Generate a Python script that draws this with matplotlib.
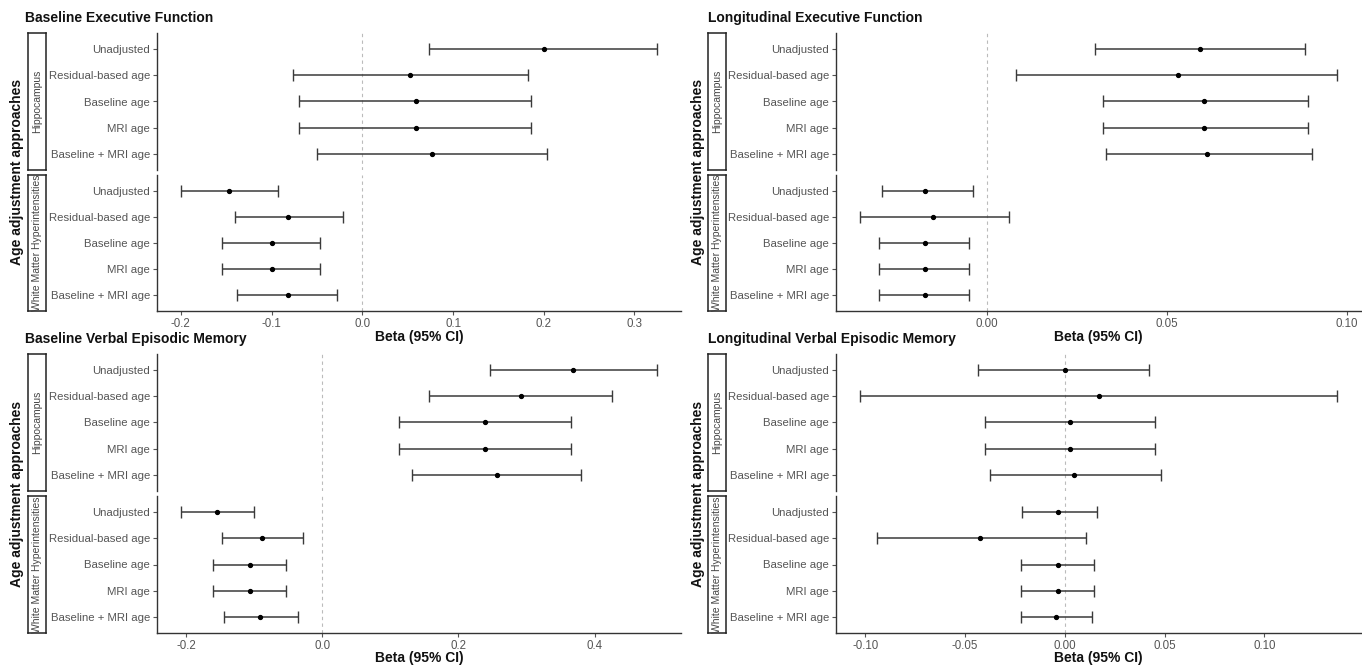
import matplotlib
matplotlib.use("Agg")
import matplotlib.pyplot as plt
import numpy as np

plt.rcParams['font.family'] = ['Liberation Sans', 'DejaVu Sans']

categories = ["Unadjusted", "Residual-based age", "Baseline age", "MRI age", "Baseline + MRI age"]
regions = ["Hippocampus", "White Matter Hyperintensities"]
panel_titles = ["Baseline Executive Function", "Longitudinal Executive Function",
                "Baseline Verbal Episodic Memory", "Longitudinal Verbal Episodic Memory"]

# Baseline Executive Function
bef_hip_est = [0.200, 0.053, 0.059, 0.059, 0.077]
bef_hip_lo = [0.074, -0.076, -0.070, -0.070, -0.050]
bef_hip_hi = [0.325, 0.183, 0.186, 0.186, 0.204]
bef_wmh_est = [-0.147, -0.082, -0.100, -0.100, -0.082]
bef_wmh_lo = [-0.200, -0.140, -0.155, -0.155, -0.138]
bef_wmh_hi = [-0.093, -0.021, -0.047, -0.047, -0.028]

# Longitudinal Executive Function
lef_hip_est = [0.0593, 0.0531, 0.0602, 0.0602, 0.0612]
lef_hip_lo = [0.0301, 0.0082, 0.0322, 0.0322, 0.0331]
lef_hip_hi = [0.0883, 0.0973, 0.0893, 0.0893, 0.0904]
lef_wmh_est = [-0.0171, -0.0151, -0.0171, -0.0171, -0.0171]
lef_wmh_lo = [-0.0292, -0.0353, -0.0301, -0.0301, -0.0301]
lef_wmh_hi = [-0.0039, 0.0060, -0.0051, -0.0051, -0.0051]

# Baseline Verbal Episodic Memory
bvm_hip_est = [0.369, 0.292, 0.239, 0.239, 0.256]
bvm_hip_lo = [0.246, 0.157, 0.112, 0.112, 0.131]
bvm_hip_hi = [0.492, 0.426, 0.365, 0.365, 0.380]
bvm_wmh_est = [-0.155, -0.089, -0.107, -0.107, -0.091]
bvm_wmh_lo = [-0.208, -0.147, -0.161, -0.161, -0.144]
bvm_wmh_hi = [-0.101, -0.029, -0.053, -0.053, -0.036]

# Longitudinal Verbal Episodic Memory
lvm_hip_est = [0.000, 0.0170, 0.0028, 0.0028, 0.0048]
lvm_hip_lo = [-0.0435, -0.1028, -0.0400, -0.0400, -0.0374]
lvm_hip_hi = [0.0422, 0.1365, 0.0452, 0.0452, 0.0483]
lvm_wmh_est = [-0.0035, -0.0424, -0.0035, -0.0035, -0.0046]
lvm_wmh_lo = [-0.0213, -0.0941, -0.0222, -0.0222, -0.0222]
lvm_wmh_hi = [0.0161, 0.0107, 0.0148, 0.0148, 0.0137]

x_ticks = [[-0.2, -0.1, 0.0, 0.1, 0.2, 0.3],
           [0.00, 0.05, 0.10],
           [-0.2, 0.0, 0.2, 0.4],
           [-0.10, -0.05, 0.00, 0.05, 0.10]]
x_tick_labels = [["-0.2", "-0.1", "0.0", "0.1", "0.2", "0.3"],
                 ["0.00", "0.05", "0.10"],
                 ["-0.2", "0.0", "0.2", "0.4"],
                 ["-0.10", "-0.05", "0.00", "0.05", "0.10"]]

panels = [
    ((bef_hip_est, bef_hip_lo, bef_hip_hi), (bef_wmh_est, bef_wmh_lo, bef_wmh_hi)),
    ((lef_hip_est, lef_hip_lo, lef_hip_hi), (lef_wmh_est, lef_wmh_lo, lef_wmh_hi)),
    ((bvm_hip_est, bvm_hip_lo, bvm_hip_hi), (bvm_wmh_est, bvm_wmh_lo, bvm_wmh_hi)),
    ((lvm_hip_est, lvm_hip_lo, lvm_hip_hi), (lvm_wmh_est, lvm_wmh_lo, lvm_wmh_hi)),
]

W, H = 1362, 666
fig = plt.figure(figsize=(W / 100, H / 100), dpi=100)
fig.patch.set_facecolor('white')


def fx(x):
    return x / W


def fy(y):
    return 1 - y / H


# layout in pixel coordinates
col_ax = [(157, 681), (836, 1361)]
col_strip = [(28, 46), (708, 726)]
col_ylab = [17, 698]
col_title = [25, 708]
row_facets = [[(33, 170), (175, 311)], [(354, 491), (496, 633)]]
row_title = [18, 339]
row_xlab = [337, 658]

text_grey = '#555555'
line_col = '#3a3a3a'

for p, (facets) in enumerate(panels):
    r, c = divmod(p, 2)
    x0, x1 = col_ax[c]
    allvals = np.concatenate([np.array(f[1]) for f in facets] + [np.array(f[2]) for f in facets])
    lo, hi = allvals.min(), allvals.max()
    pad = 0.05 * (hi - lo)
    xlim = (lo - pad, hi + pad)
    for k, (est, low, high) in enumerate(facets):
        ytop, ybot = row_facets[r][k]
        ax = fig.add_axes([fx(x0), fy(ybot), fx(x1 - x0), (ybot - ytop) / H])
        ypos = np.arange(len(categories))
        est = np.array(est); low = np.array(low); high = np.array(high)
        ax.axvline(0, color='#BBBBBB', lw=0.8, ls=(0, (3, 3)), zorder=1)
        ax.errorbar(est, ypos, xerr=[est - low, high - est], fmt='o', color='black',
                    ecolor=line_col, elinewidth=1.1, capsize=4, capthick=1.0,
                    markersize=2.8, zorder=3)
        ax.set_ylim(len(categories) - 0.4, -0.6)
        ax.set_xlim(*xlim)
        ax.set_yticks(ypos)
        ax.set_yticklabels(categories, fontsize=8.2, color=text_grey)
        for s in ['top', 'right']:
            ax.spines[s].set_visible(False)
        ax.spines['left'].set_color('#333333')
        ax.spines['left'].set_linewidth(1.0)
        ax.tick_params(axis='y', length=3, width=0.8, color='#555555', pad=2)
        if k == 0:
            ax.spines['bottom'].set_visible(False)
            ax.set_xticks([])
        else:
            ax.spines['bottom'].set_color('#333333')
            ax.spines['bottom'].set_linewidth(1.0)
            ax.set_xticks(x_ticks[p])
            ax.set_xticklabels(x_tick_labels[p], fontsize=8.3, color=text_grey)
            ax.tick_params(axis='x', length=3, width=0.8, color='#555555', pad=2)
        ax.set_facecolor('none')
        # strip
        sx0, sx1 = col_strip[c]
        sax = fig.add_axes([fx(sx0), fy(ybot), fx(sx1 - sx0), (ybot - ytop) / H])
        sax.set_xticks([]); sax.set_yticks([])
        for s in sax.spines.values():
            s.set_color('#222222'); s.set_linewidth(1.1)
        sax.text(0.5, 0.5, regions[k], rotation=90, ha='center', va='center',
                 fontsize=7.5, color='#444444', transform=sax.transAxes)
    # y label
    ytop = row_facets[r][0][0]; ybot = row_facets[r][1][1]
    fig.text(fx(col_ylab[c]), fy((ytop + ybot) / 2), "Age adjustment approaches",
             rotation=90, ha='center', va='center', fontsize=10, fontweight='bold',
             color='#111111')
    # title
    fig.text(fx(col_title[c]), fy(row_title[r]), panel_titles[p], ha='left', va='center',
             fontsize=10, fontweight='bold', color='#111111')
    # x label
    fig.text(fx((x0 + x1) / 2), fy(row_xlab[r]), "Beta (95% CI)", ha='center', va='center',
             fontsize=10, fontweight='bold', color='#111111')

fig.savefig("out.png", dpi=100, facecolor='white')
